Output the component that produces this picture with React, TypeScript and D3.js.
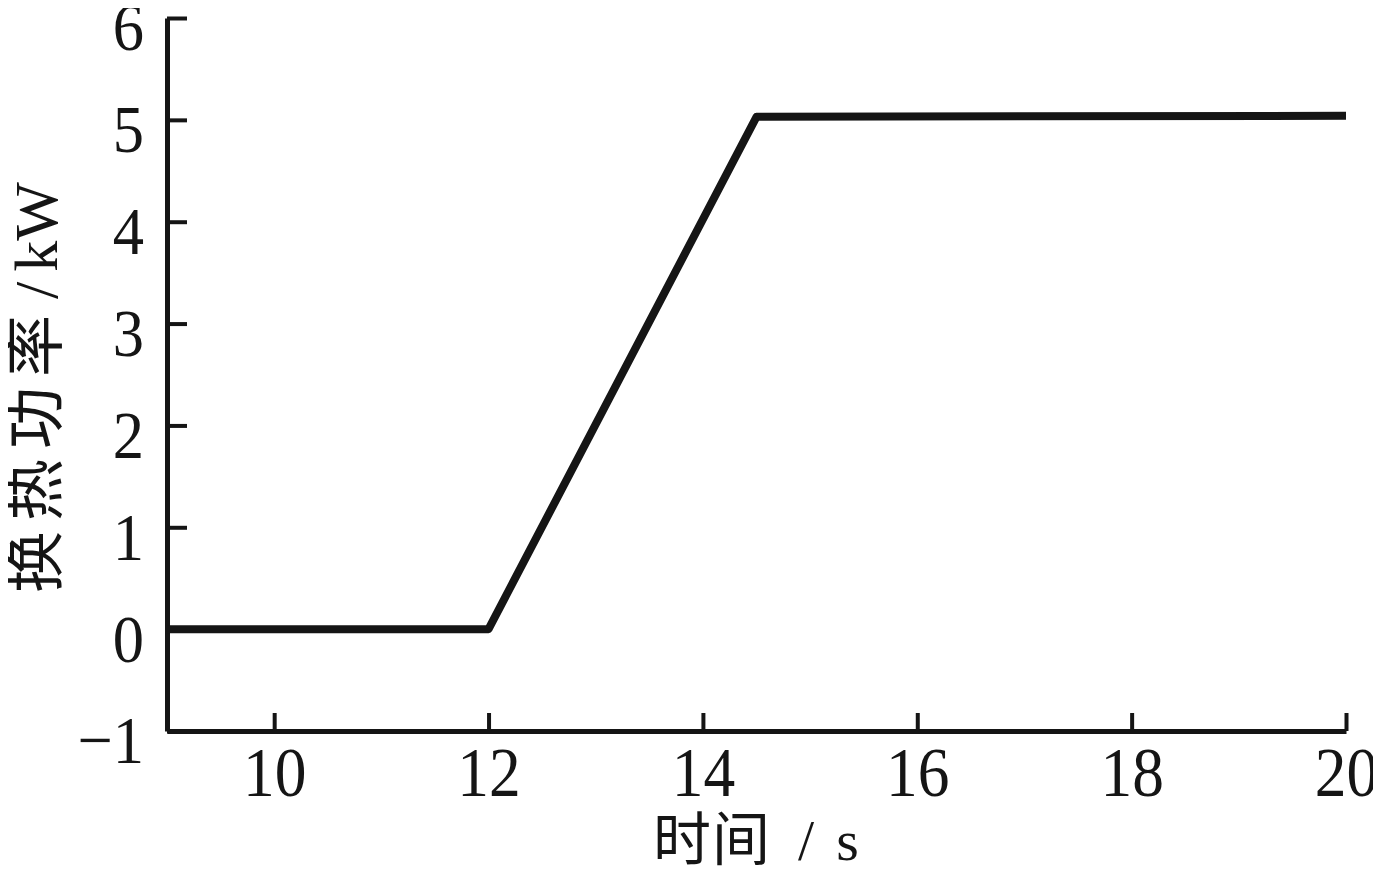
import React, { useRef, useEffect } from 'react';
import * as d3 from 'd3';

// time (s) and heat exchange power (kW)
const timeValues = [9, 12, 14.5, 20];
const powerValues = [0, 0, 5.03, 5.04];

const xTicks = [10, 12, 14, 16, 18, 20];
const yTicks = [-1, 0, 1, 2, 3, 4, 5, 6];

const xTitleName = '时间';
const xTitleUnit = 's';
const yTitleName = '换热功率';
const yTitleUnit = 'kW';

const width = 1381;
const height = 875;

const App = () => {
  const ref = useRef<SVGSVGElement>(null);

  useEffect(() => {
    const svg = d3.select(ref.current);
    svg.selectAll('*').remove();

    const margin = { top: 18, right: 35, bottom: 144, left: 167 };
    const innerWidth = width - margin.left - margin.right;
    const innerHeight = height - margin.top - margin.bottom;

    const x = d3.scaleLinear().domain([9, 20]).range([0, innerWidth]);
    const y = d3.scaleLinear().domain([-1, 6]).range([innerHeight, 0]);

    const g = svg.append('g').attr('transform', `translate(${margin.left},${margin.top})`);
    const font = '"Liberation Serif", "Times New Roman", serif';
    const cjkFont = '"Liberation Serif", "Noto Sans CJK SC", serif';
    const ink = '#151515';
    const squeeze = 0.92;

    // axes (ticks point inward)
    const xAxis = g.append('g')
      .attr('transform', `translate(0,${innerHeight})`)
      .call(d3.axisBottom(x).tickValues(xTicks).tickSizeInner(-18).tickSizeOuter(0).tickPadding(16));
    xAxis.select('.domain').attr('stroke', ink).attr('stroke-width', 5);
    xAxis.selectAll('line').attr('stroke', ink).attr('stroke-width', 4);
    xAxis.selectAll('text')
      .attr('font-family', font)
      .attr('font-size', 69)
      .attr('fill', ink)
      .attr('dy', '0.71em')
      .attr('transform', `scale(${squeeze},1)`);

    const yAxis = g.append('g')
      .call(d3.axisLeft(y).tickValues(yTicks).tickSizeInner(-20).tickSizeOuter(0)
        .tickFormat(d => (+d < 0 ? '\u2212' + Math.abs(+d) : String(d))));
    yAxis.select('.domain').attr('stroke', ink).attr('stroke-width', 5);
    yAxis.selectAll('line').attr('stroke', ink).attr('stroke-width', 4);
    yAxis.selectAll('text')
      .attr('font-family', font)
      .attr('font-size', 68)
      .attr('fill', ink)
      .attr('x', -23 / squeeze)
      .attr('dy', '0.47em')
      .attr('transform', `scale(${squeeze},1)`);

    // data line
    const points = timeValues.map((t, i) => [t, powerValues[i]] as [number, number]);
    const line = d3.line<[number, number]>()
      .x(d => x(d[0]))
      .y(d => y(d[1]));

    g.append('path')
      .datum(points)
      .attr('fill', 'none')
      .attr('stroke', ink)
      .attr('stroke-width', 8)
      .attr('stroke-linejoin', 'round')
      .attr('d', line);

    // x title
    const xt = svg.append('text')
      .attr('x', 653)
      .attr('y', 860)
      .attr('font-family', cjkFont)
      .attr('font-size', 58)
      .attr('fill', ink);
    xt.append('tspan').attr('letter-spacing', 1).text(xTitleName);
    xt.append('tspan').attr('dx', 27).text('/');
    xt.append('tspan').attr('dx', 22).text(xTitleUnit);

    // y title (rotated)
    const yt = svg.append('text')
      .attr('transform', `translate(57,593) rotate(-90)`)
      .attr('font-family', cjkFont)
      .attr('font-size', 62)
      .attr('fill', ink);
    yt.append('tspan').attr('letter-spacing', 10).text(yTitleName);
    yt.append('tspan').attr('dx', 6).text('/');
    yt.append('tspan').attr('dx', 10).text(yTitleUnit);
  }, []);

  return (
    <svg ref={ref} width={width} height={height} style={{ display: 'block', margin: '-8px', background: '#fff' }} />
  );
};

export default App;
